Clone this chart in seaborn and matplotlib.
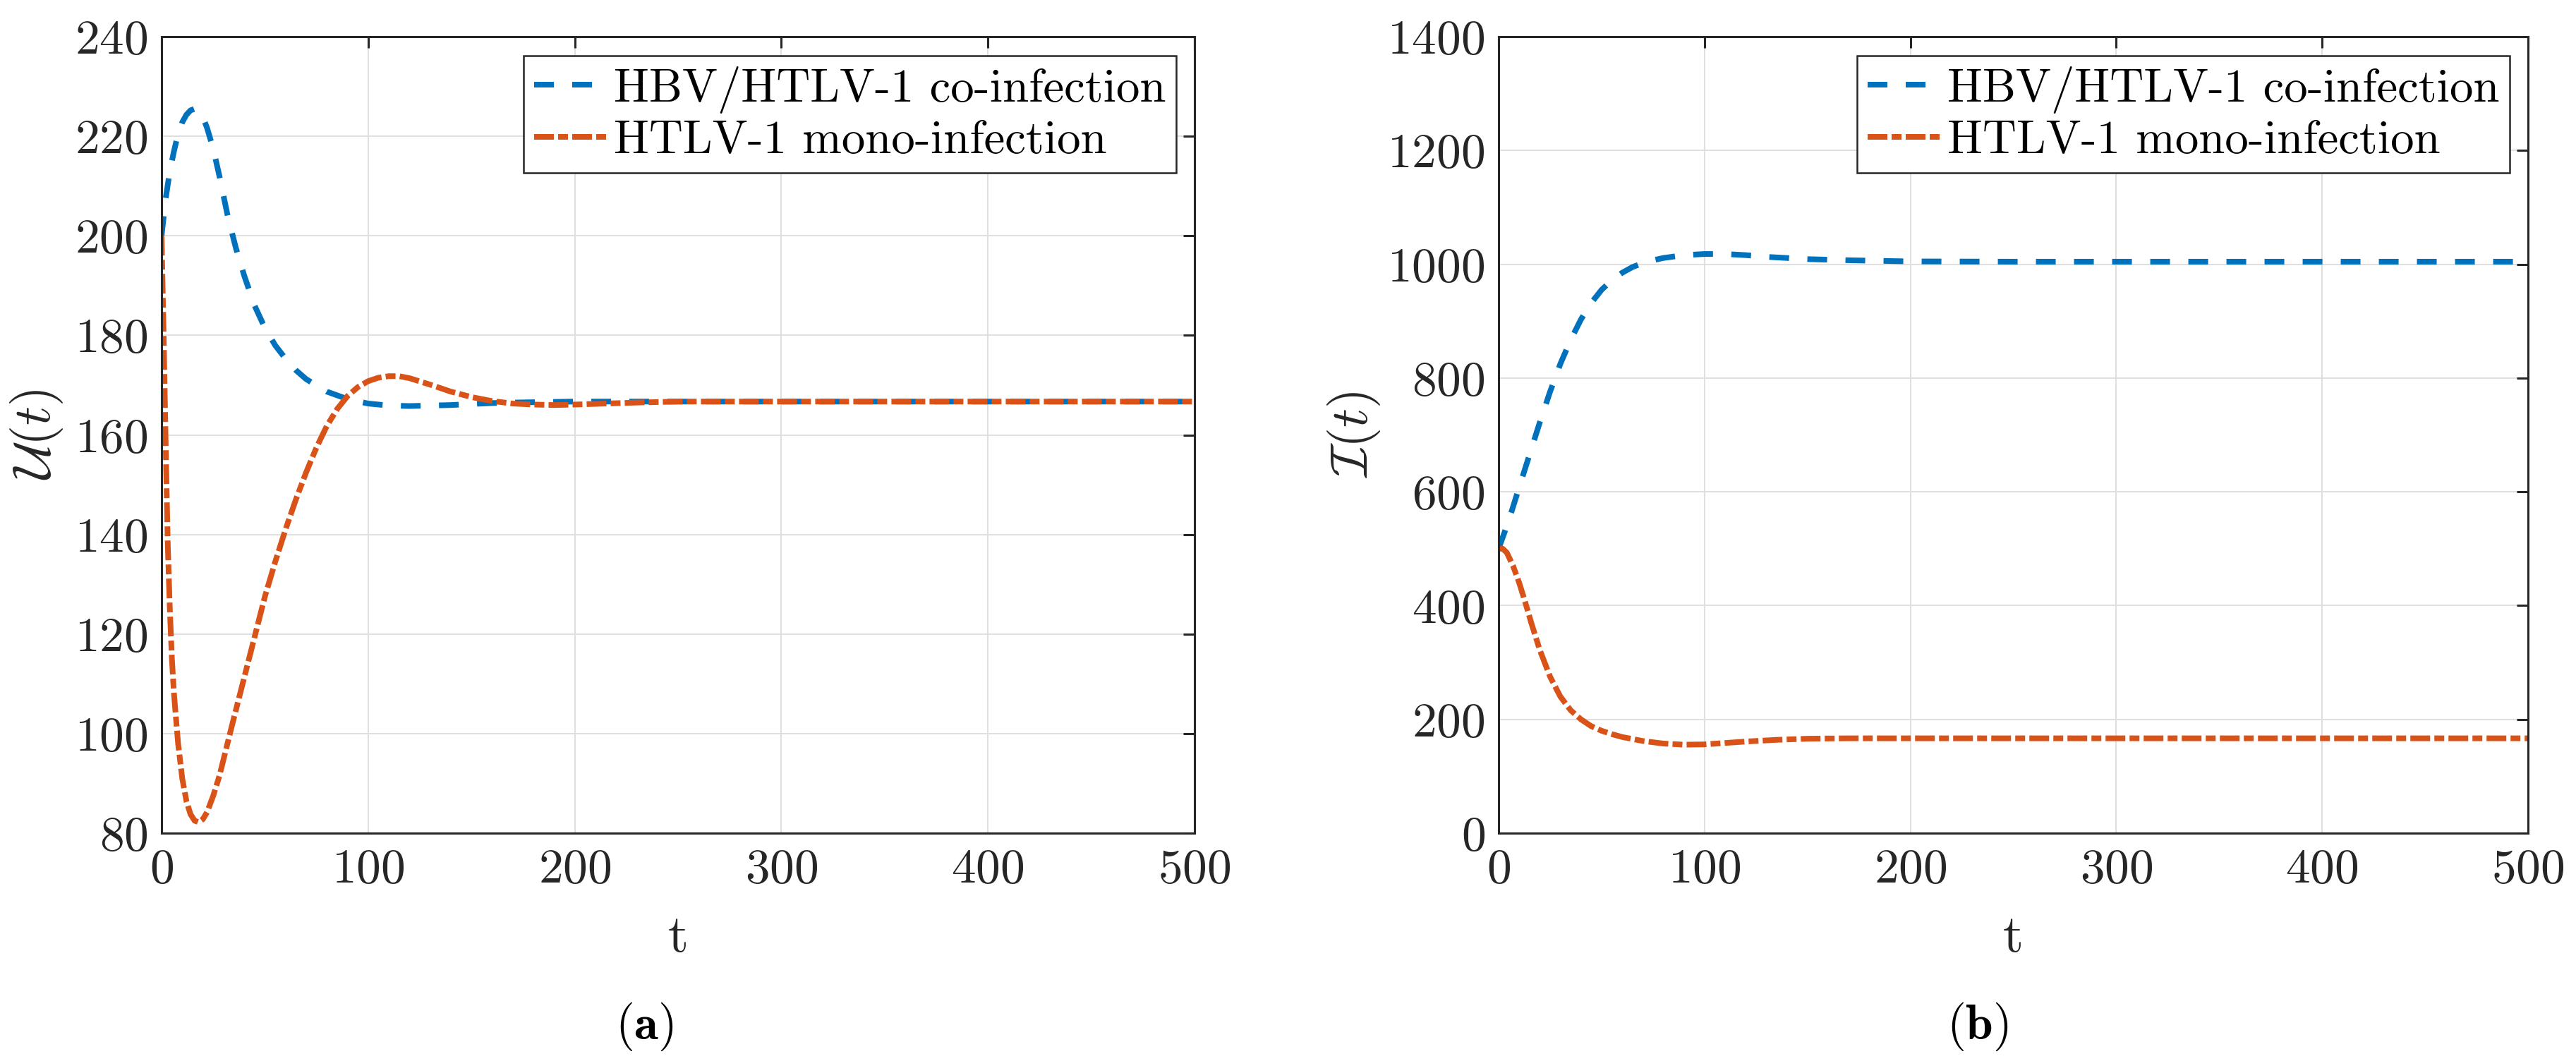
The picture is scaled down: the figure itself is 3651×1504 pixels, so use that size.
import numpy as np
import pandas as pd
import matplotlib
matplotlib.use("Agg")
import matplotlib.pyplot as plt
import seaborn as sns

# ---------------- data ----------------
series_labels = ["HBV/HTLV-1 co-infection", "HTLV-1 mono-infection"]
panel_captions = ["a", "b"]
x_ticks = [0, 100, 200, 300, 400, 500]
u_ticks = [80, 100, 120, 140, 160, 180, 200, 220, 240]
i_ticks = [0, 200, 400, 600, 800, 1000, 1200, 1400]

t_u_co = [0, 2, 4, 6, 8, 10, 12, 14, 16, 18, 20, 22, 25, 28, 32, 36, 40, 45, 50,
          55, 60, 65, 70, 80, 90, 100, 110, 120, 130, 140, 150, 160, 170, 185,
          200, 250, 300, 400, 500]
u_co = [200, 207.5, 213, 217, 220.5, 222.8, 224.3, 225.2, 225.5, 225.1, 223.8,
        221.7, 217.5, 212, 204, 197.5, 192, 186, 181.5, 178, 175.3, 173, 171.2,
        168.7, 167.2, 166.3, 165.9, 165.8, 165.9, 166.0, 166.2, 166.4, 166.5,
        166.6, 166.7, 166.7, 166.7, 166.7, 166.7]

t_u_mono = [0, 0.5, 1, 2, 3, 4, 5, 6, 7, 8, 10, 12, 14, 16, 18, 20, 22, 25, 28,
            31, 34, 38, 42, 46, 50, 55, 60, 65, 70, 75, 80, 85, 90, 95, 100, 105,
            110, 115, 120, 130, 140, 150, 160, 170, 180, 190, 200, 215, 230, 250,
            300, 400, 500]
u_mono = [200, 190, 180, 158, 138, 125, 115, 108, 103, 98, 91, 86.5, 83.8, 82.5,
          82.2, 82.8, 84.2, 87.5, 91.5, 96.5, 101.5, 108, 114.5, 121, 127.5,
          134.5, 141, 147, 152.5, 157.5, 161.8, 165.2, 167.8, 169.6, 170.8,
          171.5, 171.8, 171.8, 171.4, 170.1, 168.7, 167.6, 166.8, 166.3, 166.1,
          166.0, 166.1, 166.3, 166.5, 166.7, 166.7, 166.7, 166.7]

t_i_co = [0, 3, 6, 10, 15, 20, 25, 30, 35, 40, 45, 50, 55, 60, 65, 70, 75, 80,
          90, 100, 110, 120, 130, 140, 150, 170, 200, 250, 300, 400, 500]
i_co = [500, 530, 562, 608, 665, 722, 776, 825, 867, 903, 932, 955, 972, 985,
        995, 1002, 1007, 1011, 1016, 1018, 1018, 1016, 1013, 1011, 1009, 1007,
        1005, 1004.5, 1004.5, 1004.5, 1004.5]

t_i_mono = [0, 2, 4, 7, 10, 13, 16, 20, 25, 30, 35, 40, 45, 50, 55, 60, 70, 80,
            90, 100, 110, 120, 135, 150, 170, 200, 300, 400, 500]
i_mono = [500, 500, 493, 470, 440, 405, 368, 322, 275, 240, 216, 200, 188, 180,
          174, 169, 162, 157.5, 155.5, 156, 158.5, 161, 164, 166, 166.7, 166.7,
          166.7, 166.7, 166.7]

# ---------------- style ----------------
sns.set_theme(style="whitegrid")
plt.rcParams["font.family"] = ["cmr10", "DejaVu Serif"]
plt.rcParams["mathtext.fontset"] = "cm"
plt.rcParams["axes.formatter.use_mathtext"] = True
plt.rcParams["axes.unicode_minus"] = False

BLUE = "#0072BD"
ORANGE = "#D95319"
DARK = "#262626"
GRID = "#dfdfdf"
LW = 5.76
DASH_CO = (3.5, 3.25)
DASH_MONO = (3.5, 0.75, 1.75, 0.75)

W, H = 3651, 1504
DPI = 100
fig = plt.figure(figsize=(W / DPI, H / DPI), dpi=DPI)
fig.patch.set_facecolor("white")


def axrect(x0, x1, y0, y1):
    return [x0 / W, 1 - y1 / H, (x1 - x0) / W, (y1 - y0) / H]


panels = [
    dict(rect=axrect(229, 1693, 52, 1181), data=[(t_u_co, u_co), (t_u_mono, u_mono)],
         yticks=u_ticks, ylabel=r"$\mathcal{U}(t)$", ylab_x=52, xlab_x=961, cap_x=913),
    dict(rect=axrect(2124, 3583, 52, 1181), data=[(t_i_co, i_co), (t_i_mono, i_mono)],
         yticks=i_ticks, ylabel=r"$\mathcal{I}(t)$", ylab_x=1919, xlab_x=2853, cap_x=2803),
]

for p, cap in zip(panels, panel_captions):
    ax = fig.add_axes(p["rect"])
    ax.set_facecolor("white")
    colors = [BLUE, ORANGE]
    dashes = [DASH_CO, DASH_MONO]
    for (tt, vv), lab, col, ds in zip(p["data"], series_labels, colors, dashes):
        df = pd.DataFrame({"t": tt, "v": vv})
        sns.lineplot(data=df, x="t", y="v", ax=ax, color=col, linewidth=LW,
                     label=lab, legend=False, zorder=3)
        ln = ax.lines[-1]
        ln.set_dashes(ds)
        ln.set_dash_capstyle("butt")
        ln.set_solid_capstyle("butt")

    ax.set_xlim(x_ticks[0], x_ticks[-1])
    ax.set_ylim(p["yticks"][0], p["yticks"][-1])
    ax.set_xticks(x_ticks)
    ax.set_yticks(p["yticks"])
    ax.set_xlabel("")
    ax.set_ylabel("")
    ax.set_axisbelow(True)
    ax.grid(True, color=GRID, linewidth=1.44)
    for s in ax.spines.values():
        s.set_visible(True)
        s.set_color(DARK)
        s.set_linewidth(2.2)
        s.set_zorder(5)
    ax.tick_params(axis="both", which="major", direction="in", top=True, right=True,
                   length=11.5, width=2.2, color=DARK, labelcolor=DARK,
                   labelsize=50, pad=14)
    ax.tick_params(axis="x", pad=16)

    leg = ax.legend(loc="upper right", bbox_to_anchor=(0.9823, 0.976),
                    borderaxespad=0, fontsize=48, frameon=True, fancybox=False,
                    framealpha=1, edgecolor=DARK, handlelength=1.53,
                    handletextpad=0.17, borderpad=0.22, labelspacing=0.15)
    leg.get_frame().set_linewidth(1.8)
    for txt in leg.get_texts():
        txt.set_color("black")

    fig.text(p["ylab_x"] / W, 1 - 616 / H, p["ylabel"], rotation=90,
             ha="center", va="center", fontsize=54, color=DARK)
    fig.text(p["xlab_x"] / W, 1 - 1330 / H, "t", ha="center", va="center",
             fontsize=54, color=DARK)
    fig.text(p["cap_x"] / W, 1 - 1455 / H, "(" + r"$\mathbf{" + cap + r"}$" + ")",
             ha="center", va="center", fontsize=50, color="black")

fig.savefig("out.png", dpi=DPI, facecolor="white")
